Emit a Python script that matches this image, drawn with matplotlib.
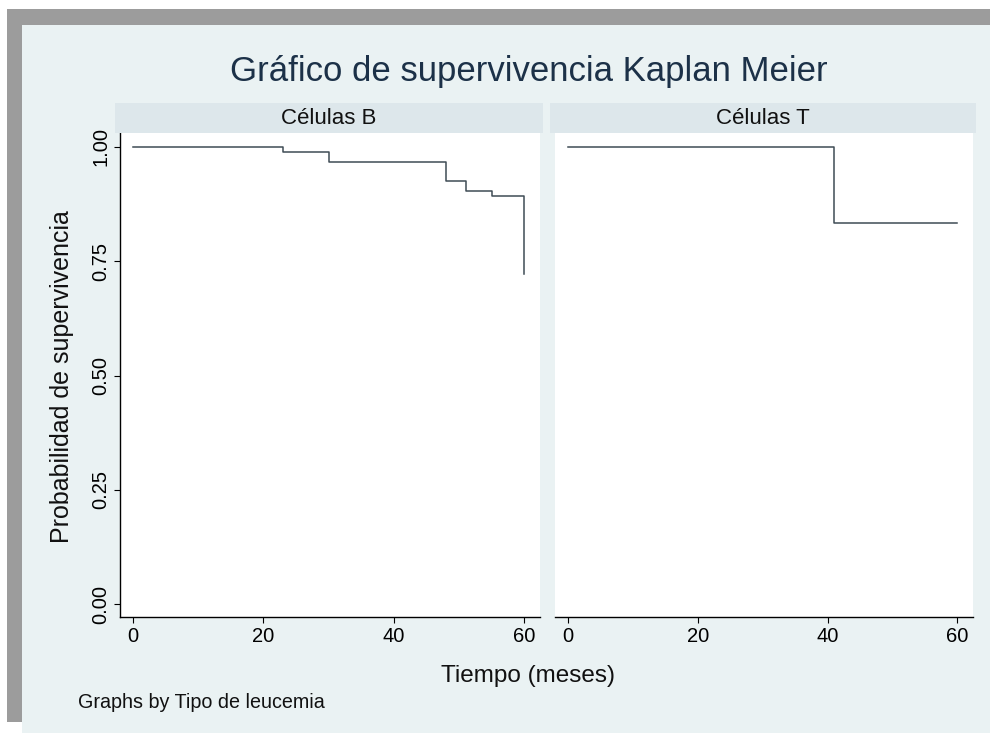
import matplotlib.pyplot as plt
from matplotlib.patches import Rectangle

plt.rcParams['font.family'] = ['Liberation Sans', 'DejaVu Sans']

# Kaplan-Meier estimates
tiempo_b = [0, 23, 30, 48, 51, 55, 60]
surv_b = [1.0, 0.990, 0.968, 0.926, 0.904, 0.893, 0.722]
tiempo_t = [0, 41, 60]
surv_t = [1.0, 0.833, 0.833]
paneles = ['Células B', 'Células T']
yticks = [0, 0.25, 0.5, 0.75, 1.0]
ytick_labels = ['0.00', '0.25', '0.50', '0.75', '1.00']
xticks = [0, 20, 40, 60]

W, H = 992, 733
fig = plt.figure(figsize=(W / 100, H / 100), dpi=100)
fig.patch.set_facecolor('white')


def fx(px):
    return px / W


def fy(py):
    return 1 - py / H


# gray frame + light blue graph region
fig.patches.append(Rectangle((fx(7), fy(722)), fx(983), 713 / H, transform=fig.transFigure,
                             facecolor='#9c9c9c', edgecolor='none', zorder=-10))
fig.patches.append(Rectangle((fx(22), 0), fx(968), fy(25), transform=fig.transFigure,
                             facecolor='#eaf2f3', edgecolor='none', zorder=-9))

line_col = '#3f4c55'
datos = [(tiempo_b, surv_b), (tiempo_t, surv_t)]
lefts = [120, 555]
rights = [540, 973]

for i, (t, s) in enumerate(datos):
    l, r = lefts[i], rights[i]
    ax = fig.add_axes([fx(l), fy(617), (r - l) / W, (617 - 133) / H])
    ax.set_facecolor('white')
    ax.plot(t, s, drawstyle='steps-post', color=line_col, lw=1.1)
    ax.set_xlim(-2, 62.4)
    ax.set_ylim(-0.0284, 1.0306)
    for sp in ['top', 'right']:
        ax.spines[sp].set_visible(False)
    ax.spines['bottom'].set_linewidth(1.0)
    ax.set_xticks(xticks)
    ax.tick_params(axis='x', length=4, width=0.8, labelsize=14.5, pad=3)
    if i == 0:
        ax.spines['left'].set_linewidth(1.0)
        ax.set_yticks(yticks)
        ax.set_yticklabels(ytick_labels, rotation=90, va='center')
        ax.tick_params(axis='y', length=4, width=0.8, labelsize=14.5, pad=3)
    else:
        ax.spines['left'].set_visible(False)
        ax.set_yticks([])

    # strip with panel title
    sax = fig.add_axes([fx(l - 5), fy(133), (r - l + 8) / W, 30 / H])
    sax.set_facecolor('#dde7eb')
    for sp in sax.spines.values():
        sp.set_visible(False)
    sax.set_xticks([])
    sax.set_yticks([])
    sax.text(0.5, 0.5, paneles[i], ha='center', va='center', fontsize=16, color='#111111',
             transform=sax.transAxes)

fig.text(fx(529), fy(72), 'Gráfico de supervivencia Kaplan Meier', ha='center', va='center',
         fontsize=25, color='#1c3148')
fig.text(fx(528), fy(676), 'Tiempo (meses)', ha='center', va='center', fontsize=17.5, color='#111111')
fig.text(fx(62), fy(377), 'Probabilidad de supervivencia', ha='center', va='center', rotation=90,
         fontsize=18, color='#111111')
fig.text(fx(78), fy(702), 'Graphs by Tipo de leucemia', ha='left', va='center', fontsize=14.2,
         color='#111111')

fig.savefig('out.png', dpi=100)
